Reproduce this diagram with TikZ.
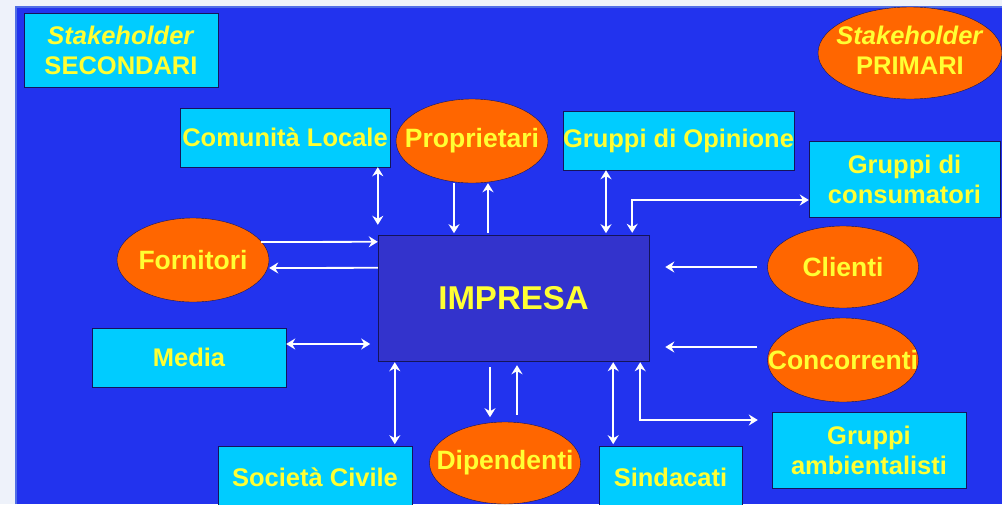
\documentclass[tikz,border=0pt]{standalone}
\usepackage{fontspec}
\setmainfont{Liberation Sans}
\usetikzlibrary{calc,shapes.geometric,arrows.meta}
\definecolor{grigio}{RGB}{238,242,250}
\definecolor{sfondo}{RGB}{34,51,238}
\definecolor{bordochiaro}{RGB}{80,110,230}
\definecolor{ciano}{RGB}{0,204,255}
\definecolor{arancio}{RGB}{255,102,0}
\definecolor{giallo}{RGB}{255,255,51}
\definecolor{impresablu}{RGB}{51,51,204}
\definecolor{bordo}{RGB}{20,20,90}
\newcommand{\Testo}{\fontsize{25.5}{30}\selectfont\bfseries}
\newcommand{\Piatto}[1]{\makebox[0pt]{#1}}
\tikzset{Box/.style={
    inner sep=0pt,
    draw=bordo, thin,
    fill=ciano,
    text=giallo,
    align=center,
    font=\Testo,
    }
}

\begin{document}
\begin{tikzpicture}[x=1pt,y=-1pt,
    Oval/.style={ellipse, inner sep=0pt,
    draw=bordo, thin,
    fill=arancio,
    text=giallo,
    font=\fontsize{26.5}{30}\selectfont\bfseries,
    minimum width=152pt, minimum height=84pt},
    arr/.style={draw=white, line width=1.8pt,
    >={Stealth[length=9pt,width=11pt,inset=3pt]}},
]
\useasboundingbox (0,0) rectangle (1002,504);
\fill[grigio] (0,0) rectangle (1002,504);
\fill[sfondo] (15,6) rectangle (1002,504);
\draw[bordochiaro, line width=1.5pt] (15.75,504) -- (15.75,6.75) -- (1002,6.75);

% legenda
\node[Box, minimum width=194pt, minimum height=74pt] (secondari) at (121,50) {\textit{Stakeholder}\\SECONDARI};
\node[Oval, minimum width=184pt, minimum height=92pt, font=\Testo] (primari) at (910,53)
    {\Piatto{\begin{tabular}{@{}c@{}}\textit{Stakeholder}\\PRIMARI\end{tabular}}};

% centro
\node[draw=bordo, fill=impresablu, inner sep=0pt, minimum width=271pt, minimum height=126pt,
    text=giallo, font=\fontsize{33}{38}\selectfont\bfseries] (impresa) at (513.5,298) {IMPRESA};

% stakeholder
\node[Box, minimum width=210pt, minimum height=59pt] (comunita) at (285,137.5) {Comunità Locale};
\node[Oval] (proprietari) at (472,141) {\Piatto{Proprietari}};
\node[Box, minimum width=229pt, minimum height=59pt] (opinione) at (678.5,140.5) {Gruppi di Opinione};
\node[Box, minimum width=191pt, minimum height=76pt] (consumatori) at (904.5,179) {Gruppi di\\consumatori};
\node[Oval] (fornitori) at (193,260) {\Piatto{Fornitori}};
\node[Oval, minimum width=151pt, minimum height=82pt] (clienti) at (843,267) {\Piatto{Clienti}};
\node[Oval, minimum width=151pt] (concorrenti) at (843,360) {\Piatto{Concorrenti}};
\node[Box, minimum width=194pt, minimum height=59pt] (media) at (189,357.5) {Media};
\node[Box, minimum width=194pt, minimum height=62pt] (societa) at (315,477) {Società Civile};
\node[Oval, minimum width=151pt, minimum height=82pt] (dipendenti) at (505,463) {\Piatto{Dipendenti}};
\node[Box, minimum width=143pt, minimum height=62pt] (sindacati) at (670.5,477) {Sindacati};
\node[Box, minimum width=194pt, minimum height=76pt] (ambientalisti) at (869,450) {Gruppi\\ambientalisti};

% frecce
\draw[arr,<->] (comunita.south -| impresa.west) -- ([yshift=10pt]impresa.north west);
\draw[arr,->] ([xshift=-18pt]proprietari.south) -- +(0,50);
\draw[arr,<-] ([xshift=16pt]proprietari.south) -- +(0,50);
\draw[arr,<->] ([xshift=-72.5pt]opinione.south) -- +(0,63);
\draw[arr,<->] ([xshift=-17pt,yshift=2pt]impresa.north east) |- ([yshift=-21pt]consumatori.west);
\draw[arr,->] ([xshift=-8pt,yshift=18pt]fornitori.east) -- ([yshift=-7pt]impresa.north west);
\draw[arr,->] ([yshift=-33pt]impresa.north west) -- ([yshift=-8pt]fornitori.east);
\draw[arr,->] ([xshift=-10pt]clienti.west) -- +(-92,0);
\draw[arr,->] ([xshift=-10pt,yshift=13pt]concorrenti.west) -- +(-92,0);
\draw[arr,<->] ([yshift=13.5pt]media.east) -- +(84,0);
\draw[arr,<->] ([xshift=17pt,yshift=-1pt]impresa.south west) -- +(0,82);
\draw[arr,->] ([xshift=-23.5pt,yshift=-6pt]impresa.south) -- +(0,50);
\draw[arr,<-] ([xshift=3.5pt,yshift=-4pt]impresa.south) -- +(0,50);
\draw[arr,<->] ([xshift=-36pt,yshift=-1pt]impresa.south east) -- +(0,82);
\draw[arr,<->] ([xshift=-9pt,yshift=-1pt]impresa.south east) |- ([xshift=-14pt,yshift=30pt]ambientalisti.west);
\end{tikzpicture}
\end{document}
